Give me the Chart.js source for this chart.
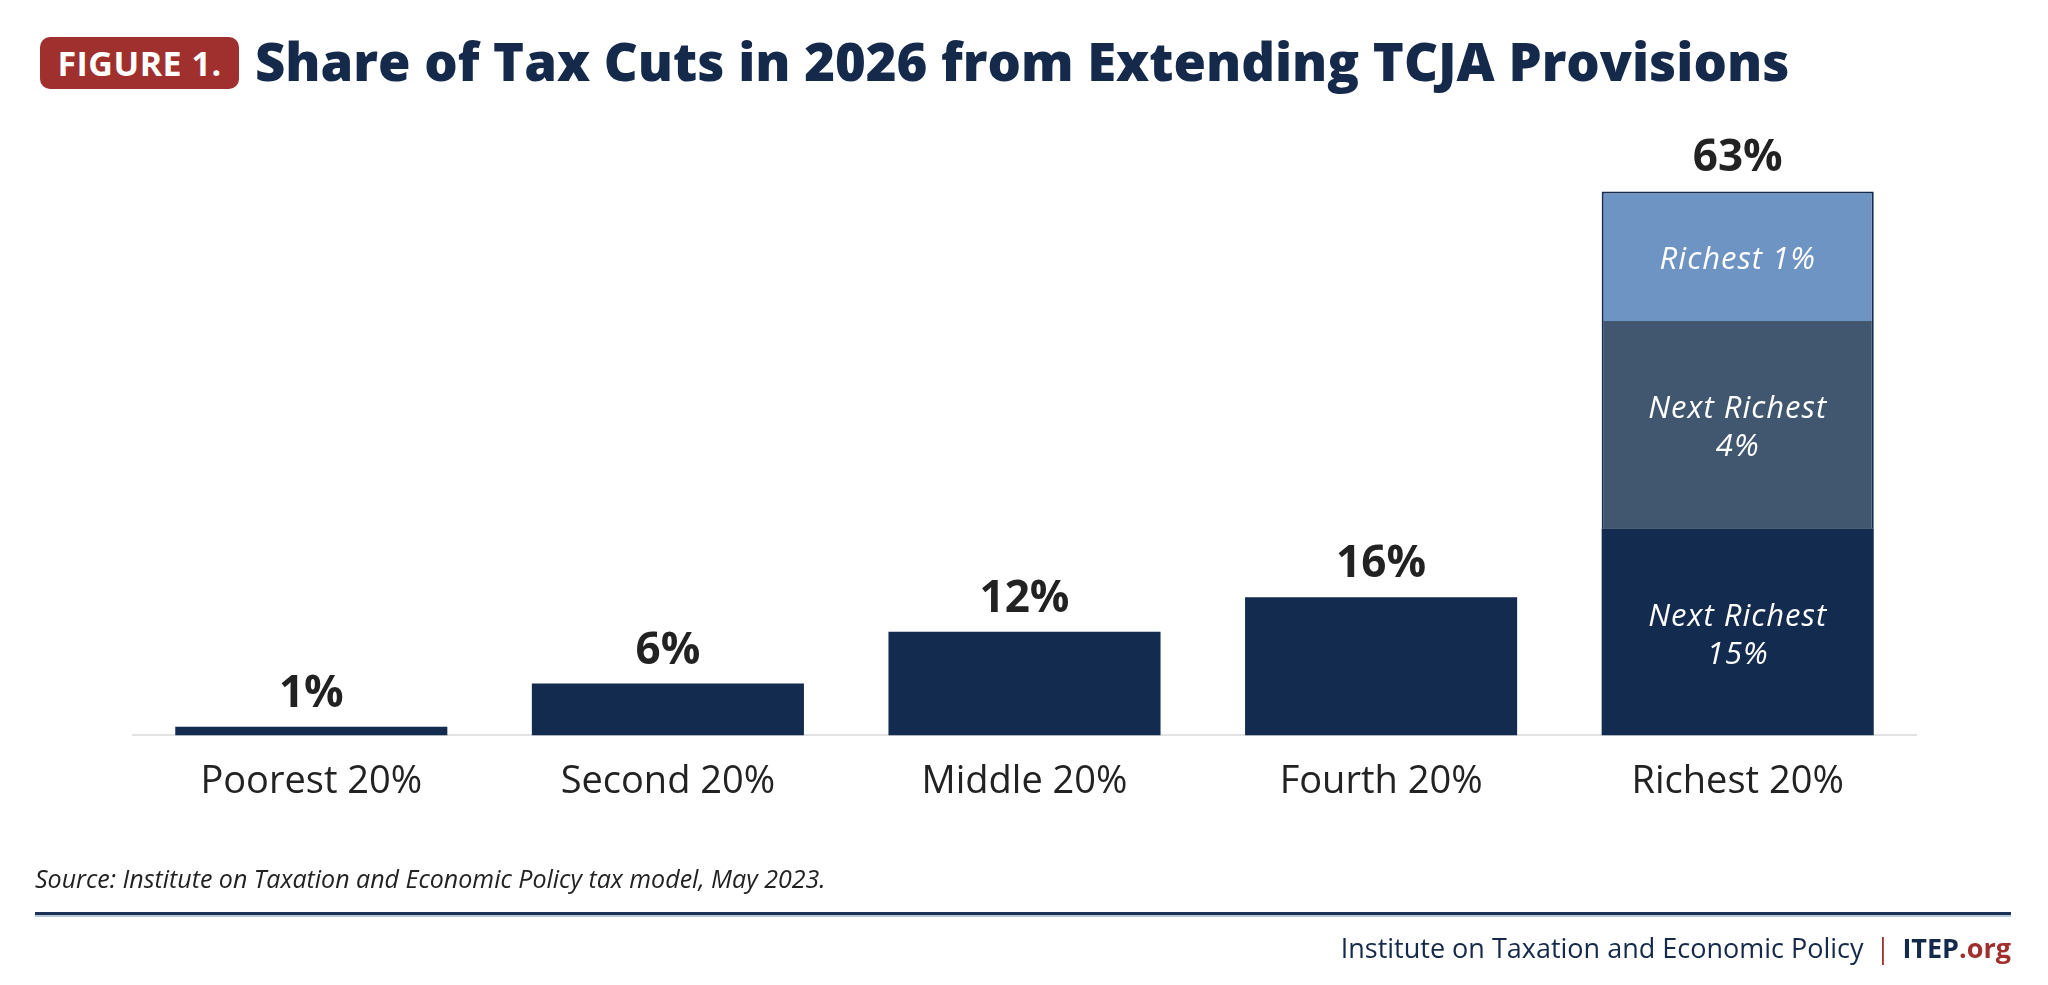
<!DOCTYPE html>
<html>
<head>
<meta charset="utf-8">
<script src="https://cdn.jsdelivr.net/npm/chart.js@4"></script>
<style>
  html, body { margin: 0; padding: 0; background: #fff; }
  body { width: 2048px; height: 985px; position: relative; overflow: hidden; font-family: "Open Sans", sans-serif; }
  #badge { position: absolute; left: 40px; top: 37px; width: 199px; height: 52px; background: #a0302e; border-radius: 10px;
           color: #fff; font-weight: 700; font-size: 34px; line-height: 52px; text-align: center; letter-spacing: 0.5px; }
  #title { position: absolute; left: 255px; top: 25px; color: #15294b; font-weight: 800; font-size: 52.6px; line-height: 72px; white-space: nowrap; }
  #wrap { position: absolute; left: 0; top: 0; width: 2048px; height: 985px; }
  #source { position: absolute; left: 35px; top: 861px; font-style: italic; font-size: 25px; color: #222; }
  #rule { position: absolute; left: 35px; top: 912px; width: 1976px; height: 3px; background: #1c3358; border-bottom: 2px solid #b9c9dc; }
  #footer { position: absolute; right: 37px; top: 929px; font-size: 27px; color: #15294b; white-space: nowrap; }
  #footer .bar { color: #a0302e; margin: 0 12px; }
  #footer b { font-weight: 700; }
  #footer .org { color: #a0302e; font-weight: 700; }
</style>
</head>
<body>
<div id="badge">FIGURE 1.</div>
<div id="title">Share of Tax Cuts in 2026 from Extending TCJA Provisions</div>
<div id="wrap"><canvas id="chart"></canvas></div>
<div id="source">Source: Institute on Taxation and Economic Policy tax model, May 2023.</div>
<div id="rule"></div>
<div id="footer">Institute on Taxation and Economic Policy<span class="bar">|</span><b>ITEP</b><span class="org">.org</span></div>
<script>
// quintile names
const categories = ['Poorest 20%', 'Second 20%', 'Middle 20%', 'Fourth 20%', 'Richest 20%'];
// bottom piece of every bar (for the richest 20% this is the next richest 15%)
const baseShare = [1, 6, 12, 16, 24];
// richest 20% split
const next4Share = [null, null, null, null, 24];
const top1Share = [null, null, null, null, 15];
const segmentLabels = [['Next Richest', '15%'], ['Next Richest', '4%'], ['Richest 1%']];

const navy = '#132b4f';

// totals above bars + italic labels inside the richest stack
const labelPlugin = {
  id: 'labels',
  afterDatasetsDraw(chart) {
    const ctx = chart.ctx;
    ctx.save();
    ctx.textAlign = 'center';
    // totals
    ctx.fillStyle = '#222';
    ctx.font = '700 44px "Open Sans"';
    ctx.textBaseline = 'alphabetic';
    categories.forEach((c, i) => {
      let total = 0;
      let topY = null;
      chart.data.datasets.forEach((ds, d) => {
        const v = ds.data[i];
        if (v != null) {
          total += v;
          topY = chart.getDatasetMeta(d).data[i].y;
        }
      });
      const x = chart.getDatasetMeta(0).data[i].x;
      ctx.fillText(total + '%', x, topY - 20);
    });
    // segment labels
    ctx.fillStyle = '#fff';
    ctx.font = 'italic 31px "Open Sans"';
    ctx.letterSpacing = '1px';
    ctx.textBaseline = 'middle';
    chart.data.datasets.forEach((ds, d) => {
      const el = chart.getDatasetMeta(d).data[4];
      const midY = (el.y + el.base) / 2 + 4;
      const lines = segmentLabels[d];
      lines.forEach((t, k) => {
        ctx.fillText(t, el.x, midY + (k - (lines.length - 1) / 2) * 38);
      });
    });
    ctx.restore();
  }
};

const richBorder = (sides) => (c) => c.dataIndex === 4 ? sides : 0;

new Chart(document.getElementById('chart'), {
  type: 'bar',
  data: {
    labels: categories,
    datasets: [
      { label: 'base', data: baseShare, backgroundColor: navy, borderWidth: 0 },
      { label: 'Next Richest 4%', data: next4Share, backgroundColor: '#41566f', borderColor: navy,
        borderWidth: richBorder({ left: 2, right: 2, top: 0, bottom: 0 }), borderSkipped: false },
      { label: 'Richest 1%', data: top1Share, backgroundColor: '#6e94c3', borderColor: navy,
        borderWidth: richBorder({ left: 2, right: 2, top: 2, bottom: 0 }), borderSkipped: false }
    ]
  },
  options: {
    responsive: true,
    maintainAspectRatio: false,
    animation: false,
    layout: { padding: { left: 133, right: 132, top: 131, bottom: 164 } },
    datasets: { bar: { categoryPercentage: 1, barPercentage: 0.763 } },
    plugins: { legend: { display: false }, tooltip: { enabled: false } },
    scales: {
      x: {
        stacked: true,
        grid: { display: false },
        border: { display: true, color: '#e2e2e2', width: 2 },
        ticks: { color: '#222', font: { family: 'Open Sans', size: 38 }, padding: 16 }
      },
      y: { stacked: true, display: false, min: 0, max: 70 }
    }
  },
  plugins: [labelPlugin]
});
</script>
</body>
</html>
